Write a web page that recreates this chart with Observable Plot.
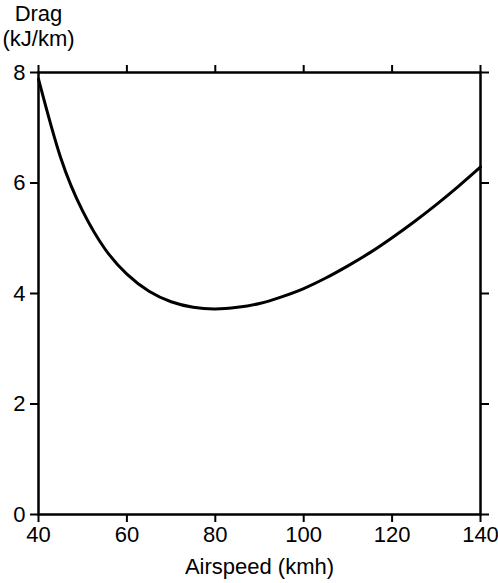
<!DOCTYPE html>
<html>
<head>
<meta charset="utf-8">
<script src="https://cdn.jsdelivr.net/npm/d3@7"></script>
<script src="https://cdn.jsdelivr.net/npm/@observablehq/plot@0.6"></script>
<style>
  html, body { margin: 0; padding: 0; background: #fff; }
</style>
</head>
<body>
<div id="chart"></div>
<script>
const airspeed = [40, 45, 50, 55, 60, 65, 70, 75, 80, 85, 90, 95, 100, 105, 110, 115, 120, 125, 130, 135, 140];
const drag = [7.88, 6.46, 5.49, 4.81, 4.35, 4.04, 3.85, 3.75, 3.72, 3.75, 3.82, 3.94, 4.09, 4.28, 4.50, 4.74, 5.01, 5.30, 5.61, 5.94, 6.29];
const xTicks = [40, 60, 80, 100, 120, 140];
const yTicks = [0, 2, 4, 6, 8];
const xLabel = "Airspeed (kmh)";
const yLabel = ["Drag", "(kJ/km)"];

const data = airspeed.map((v, i) => ({airspeed: v, drag: drag[i]}));

const chart = Plot.plot({
  width: 498,
  height: 583,
  marginLeft: 38,
  marginRight: 18,
  marginTop: 72,
  marginBottom: 69,
  style: {fontFamily: "'Liberation Sans', Arial, sans-serif", fontSize: "22px", background: "#fff", color: "#000"},
  x: {domain: [40, 140]},
  y: {domain: [0, 8]},
  marks: [
    Plot.axisX({anchor: "bottom", ticks: xTicks, tickSize: 8, tickPadding: 4, strokeWidth: 2, label: null, fontSize: 22}),
    Plot.axisX({anchor: "top", ticks: xTicks, tickSize: 8, strokeWidth: 2, tickFormat: () => "", label: null}),
    Plot.axisY({anchor: "left", ticks: yTicks, tickSize: 8, tickPadding: 5, strokeWidth: 2, label: null, fontSize: 22}),
    Plot.axisY({anchor: "right", ticks: yTicks, tickSize: 8, strokeWidth: 2, tickFormat: () => "", label: null}),
    Plot.frame({stroke: "#000", strokeWidth: 2.5}),
    Plot.line(data, {x: "airspeed", y: "drag", curve: "natural", stroke: "#000", strokeWidth: 3}),
    Plot.text([yLabel[0]], {text: d => d, frameAnchor: "top-left", dy: -67.5, textAnchor: "middle", fontSize: 22}),
    Plot.text([yLabel[1]], {text: d => d, frameAnchor: "top-left", dy: -42.5, textAnchor: "middle", fontSize: 22}),
    Plot.text([xLabel], {text: d => d, frameAnchor: "bottom", dy: 59, fontSize: 22})
  ]
});
document.getElementById("chart").appendChild(chart);
</script>
</body>
</html>
